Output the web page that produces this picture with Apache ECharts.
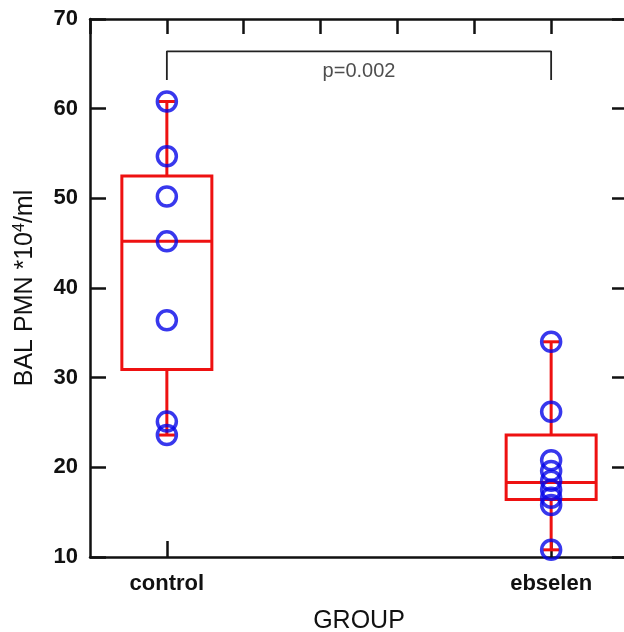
<!DOCTYPE html>
<html>
<head>
<meta charset="utf-8">
<script src="https://cdn.jsdelivr.net/npm/echarts@6/dist/echarts.min.js"></script>
<style>
html, body { margin: 0; padding: 0; background: #fff; }
#chart { width: 624px; height: 632px; }
</style>
</head>
<body>
<div id="chart"></div>
<script>
var groups = ['control', 'ebselen'];
var groupPos = [1, 6];
var controlValues = [60.8, 54.7, 50.2, 45.2, 36.4, 25.1, 23.6];
var ebselenValues = [34.0, 26.2, 20.8, 19.6, 18.5, 17.5, 16.6, 15.8, 10.8];
// min, q1, median, q3, max
var controlBox = [23.6, 30.9, 45.2, 52.5, 60.8];
var ebselenBox = [10.8, 16.4, 18.3, 23.6, 34.0];
var bracket = [[1, 63.2], [1, 66.4], [6, 66.4], [6, 63.2]];
var pText = 'p=0.002';
var pPos = [3.5, 64.1];

var red = '#ee1111';
var blue = '#0606e8';
var axisColor = '#111';
var font = 'Liberation Sans, Arial, sans-serif';

var boxData = [
	[groupPos[0]].concat(controlBox),
	[groupPos[1]].concat(ebselenBox)
];

var pointData = [];
for (var i = 0; i < controlValues.length; i++) {
	pointData.push([groupPos[0], controlValues[i]]);
}
for (var j = 0; j < ebselenValues.length; j++) {
	pointData.push([groupPos[1], ebselenValues[j]]);
}

function renderBox(params, api) {
	var x = api.value(0);
	var pMin = api.coord([x, api.value(1)]);
	var pQ1 = api.coord([x, api.value(2)]);
	var pMed = api.coord([x, api.value(3)]);
	var pQ3 = api.coord([x, api.value(4)]);
	var pMax = api.coord([x, api.value(5)]);
	var half = 45, cap = 8;
	var style = { stroke: red, lineWidth: 3, fill: null };
	return {
		type: 'group',
		children: [
			{ type: 'rect', shape: { x: pQ1[0] - half, y: pQ3[1], width: half * 2, height: pQ1[1] - pQ3[1] }, style: style },
			{ type: 'line', shape: { x1: pMed[0] - half, y1: pMed[1], x2: pMed[0] + half, y2: pMed[1] }, style: style },
			{ type: 'line', shape: { x1: pQ3[0], y1: pQ3[1], x2: pMax[0], y2: pMax[1] }, style: style },
			{ type: 'line', shape: { x1: pQ1[0], y1: pQ1[1], x2: pMin[0], y2: pMin[1] }, style: style },
			{ type: 'line', shape: { x1: pMax[0] - cap, y1: pMax[1], x2: pMax[0] + cap, y2: pMax[1] }, style: style },
			{ type: 'line', shape: { x1: pMin[0] - cap, y1: pMin[1], x2: pMin[0] + cap, y2: pMin[1] }, style: style }
		]
	};
}

var chart = echarts.init(document.getElementById('chart'));

var axisLine = { show: true, onZero: false, lineStyle: { color: axisColor, width: 2.5 } };
var tickStyle = { color: axisColor, width: 2.5 };

var option = {
	animation: false,
	backgroundColor: '#fff',
	grid: { left: 90, right: -4, top: 19, bottom: 75, outerBoundsMode: 'none', containLabel: false },
	xAxis: [{
		type: 'value',
		min: 0,
		max: 7,
		interval: 1,
		position: 'bottom',
		axisLine: axisLine,
		splitLine: { show: false },
		axisTick: { show: true, inside: true, length: 16, lineStyle: tickStyle, customValues: groupPos },
		axisLabel: {
			show: true,
			margin: 16,
			color: '#111',
			fontSize: 22,
			fontWeight: 'bold',
			fontFamily: font,
			customValues: groupPos,
			formatter: function (v) {
				var k = groupPos.indexOf(v);
				return k >= 0 ? groups[k] : '';
			}
		},
		name: 'GROUP',
		nameLocation: 'middle',
		nameGap: 52,
		nameTextStyle: { color: '#111', fontSize: 25, fontFamily: font }
	}, {
		type: 'value',
		min: 0,
		max: 7,
		interval: 1,
		position: 'top',
		axisLine: axisLine,
		splitLine: { show: false },
		axisTick: { show: true, inside: true, length: 15, lineStyle: tickStyle },
		axisLabel: { show: false }
	}],
	yAxis: [{
		type: 'value',
		min: 10,
		max: 70,
		interval: 10,
		position: 'left',
		axisLine: axisLine,
		splitLine: { show: false },
		axisTick: { show: true, inside: true, length: 16, lineStyle: tickStyle },
		axisLabel: { margin: 12, color: '#111', fontSize: 22, fontWeight: 'bold', fontFamily: font },
		name: 'BAL PMN *10{sup|4}/ml',
		nameLocation: 'middle',
		nameGap: 52,
		nameRotate: 90,
		nameTextStyle: {
			color: '#111',
			fontSize: 25,
			fontFamily: font,
			rich: {
				sup: { fontSize: 16, verticalAlign: 'top', color: '#111', fontFamily: font, padding: [0, 0, 10, 0] }
			}
		}
	}, {
		type: 'value',
		min: 10,
		max: 70,
		interval: 10,
		position: 'right',
		axisLine: axisLine,
		splitLine: { show: false },
		axisTick: { show: true, inside: true, length: 16, lineStyle: tickStyle },
		axisLabel: { show: false }
	}],
	series: [{
		type: 'custom',
		renderItem: renderBox,
		data: boxData,
		encode: { x: 0, y: [1, 2, 3, 4, 5] },
		z: 2
	}, {
		type: 'scatter',
		data: pointData,
		symbol: 'circle',
		symbolSize: 19,
		itemStyle: { color: 'rgba(0,0,0,0)', borderColor: blue, borderWidth: 3.5 },
		z: 3
	}, {
		type: 'line',
		data: bracket,
		symbol: 'none',
		lineStyle: { color: '#222', width: 1.8 },
		z: 2
	}, {
		type: 'scatter',
		data: [pPos],
		symbolSize: 1,
		itemStyle: { color: 'rgba(0,0,0,0)' },
		label: {
			show: true,
			position: 'inside',
			formatter: pText,
			color: '#222',
			fontSize: 20,
			fontFamily: font
		},
		z: 2
	}]
};

chart.setOption(option);
</script>
</body>
</html>
